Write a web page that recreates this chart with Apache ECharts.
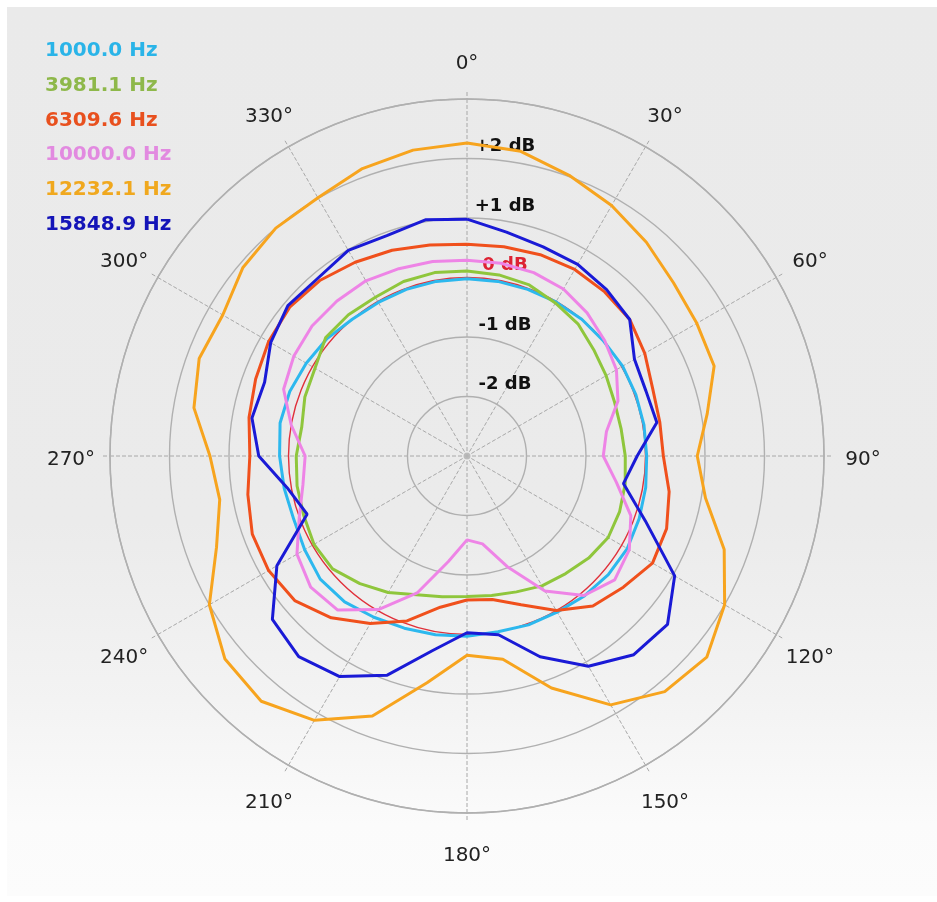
<!DOCTYPE html>
<html>
<head>
<meta charset="utf-8">
<title>Directivity</title>
<script src="https://cdn.jsdelivr.net/npm/echarts@6/dist/echarts.min.js"></script>
<style>
  html, body { margin: 0; padding: 0; background: #ffffff; }
  #panel {
    position: absolute; left: 7px; top: 7px; width: 930px; height: 889px;
    background: linear-gradient(to bottom, #eaeaea 0%, #ebebeb 58%, #f3f3f3 78%, #fbfbfb 92%, #fcfcfc 100%);
  }
  #chart { position: absolute; left: 0; top: 0; width: 937px; height: 902px; }
</style>
</head>
<body>
<div id="panel"></div>
<div id="chart"></div>
<script>
// Angles (degrees, clockwise from front) at which each response was measured
const angles = [0, 10, 20, 30, 40, 50, 60, 70, 80, 90, 100, 110, 120, 130, 140, 150, 160, 170,
                180, 190, 200, 210, 220, 230, 240, 250, 260, 270, 280, 290, 300, 310, 320, 330, 340, 350];

// Angles that carry a degree label around the rim
const angleTicks = [0, 30, 60, 90, 120, 150, 180, 210, 240, 270, 300, 330];

// Relative level in dB per frequency
const hz1000 = [-0.02, -0.02, -0.02, -0.01, 0.00, 0.00, 0.02, 0.02, 0.02, 0.02, 0.05, 0.08,
                0.11, 0.10, 0.07, 0.03, 0.02, 0.00, 0.03, 0.05, 0.08, 0.13, 0.20, 0.22,
                0.15, 0.10, 0.12, 0.15, 0.19, 0.17, 0.12, 0.07, 0.00, -0.02, -0.02, -0.02];
const hz3981 = [0.11, 0.09, 0.06, -0.03, -0.10, -0.22, -0.30, -0.36, -0.37, -0.34, -0.30, -0.27,
                -0.26, -0.33, -0.42, -0.48, -0.57, -0.62, -0.64, -0.60, -0.52, -0.35, -0.20, -0.05,
                -0.03, -0.08, -0.10, -0.13, -0.18, -0.10, -0.05, 0.10, 0.10, 0.08, 0.12, 0.13];
const hz6310 = [0.56, 0.57, 0.60, 0.62, 0.60, 0.57, 0.45, 0.32, 0.29, 0.30, 0.45, 0.57,
                0.60, 0.43, 0.29, 0.00, -0.34, -0.55, -0.58, -0.42, -0.05, 0.25, 0.55, 0.78,
                0.85, 0.84, 0.74, 0.65, 0.72, 0.78, 0.85, 0.89, 0.85, 0.76, 0.68, 0.60];
const hz10000 = [0.29, 0.29, 0.28, 0.24, 0.14, 0.02, -0.10, -0.30, -0.62, -0.71, -0.45, -0.07,
                 0.15, 0.24, 0.06, -0.38, -1.02, -1.50, -1.59, -1.20, -0.55, -0.02, 0.38, 0.43,
                 0.30, 0.00, -0.20, -0.28, 0.00, 0.28, 0.36, 0.40, 0.40, 0.40, 0.35, 0.32];
const hz12232 = [2.26, 2.20, 2.02, 1.86, 1.69, 1.53, 1.46, 1.42, 1.10, 0.87, 1.07, 1.60,
                 2.00, 2.26, 2.17, 1.83, 1.15, 0.47, 0.35, 0.87, 1.65, 2.13, 2.38, 2.31,
                 2.00, 1.48, 1.22, 1.32, 1.66, 1.79, 1.74, 1.92, 2.00, 2.01, 2.14, 2.22];
const hz15849 = [0.98, 0.82, 0.74, 0.72, 0.65, 0.57, 0.25, 0.20, 0.24, -0.14, -0.33, 0.19,
                 1.03, 1.40, 1.36, 1.08, 0.59, 0.05, -0.03, 0.32, 0.92, 1.28, 1.40, 1.27,
                 0.69, -0.14, 0.07, 0.50, 0.67, 0.62, 0.81, 0.93, 0.90, 0.99, 0.94, 1.03];

const seriesNames = ['1000.0 Hz', '3981.1 Hz', '6309.6 Hz', '10000.0 Hz', '12232.1 Hz', '15848.9 Hz'];
const seriesValues = [hz1000, hz3981, hz6310, hz10000, hz12232, hz15849];
const seriesColors = ['#2cb8ee', '#8fc63c', '#f0501c', '#ee84e6', '#f7a41e', '#1a1ad6'];
const legendColors = ['#2ab4e8', '#8eb84a', '#e8501e', '#e28ae0', '#f0a81e', '#1414b8'];

// Radial scale and its ring labels
const dbMin = -3, dbMax = 3;
const dbLabels = { '-2': '-2 dB', '-1': '-1 dB', '0': '0 dB', '1': '+1 dB', '2': '+2 dB' };

const polarRadius = 357;
const rimLabelGap = 39; // px beyond the outer ring where degree labels are centred

const gridGrey = '#b0b0b0';

// Close each curve by repeating its first sample at 360°
function toPolar(values) {
  const pts = values.map((v, i) => [v, angles[i]]);
  pts.push([values[0], 360]);
  return pts;
}

const chart = echarts.init(document.getElementById('chart'), null, { renderer: 'canvas' });

const lineSeries = seriesNames.map((name, i) => ({
  name: name,
  type: 'line',
  coordinateSystem: 'polar',
  data: toPolar(seriesValues[i]),
  showSymbol: false,
  symbol: 'none',
  smooth: false,
  lineStyle: { color: seriesColors[i], width: 3 },
  itemStyle: { color: seriesColors[i] },
  z: 3 + i,
  silent: true
}));

// Hub marker at the centre of the plot
lineSeries.push({
  type: 'scatter',
  coordinateSystem: 'polar',
  data: [[dbMin, 0]],
  symbolSize: 7,
  itemStyle: { color: '#b8b8b8' },
  silent: true,
  z: 2
});

chart.setOption({
  animation: false,
  backgroundColor: 'transparent',
  textStyle: { fontFamily: 'DejaVu Sans' },
  legend: {
    orient: 'vertical',
    left: 35,
    top: 36,
    icon: 'none',
    itemWidth: 0,
    itemHeight: 14,
    itemGap: 14.7,
    selectedMode: false,
    data: seriesNames.map((n, i) => ({
      name: n,
      textStyle: { color: legendColors[i] }
    })),
    textStyle: {
      fontFamily: 'DejaVu Sans',
      fontWeight: 'bold',
      fontSize: 20,
      lineHeight: 20
    }
  },
  polar: {
    center: [467, 456],
    radius: polarRadius
  },
  angleAxis: {
    type: 'value',
    min: 0,
    max: 360,
    interval: 30,
    startAngle: 90,
    clockwise: true,
    axisLine: { show: true, lineStyle: { color: gridGrey, width: 1.5 } },
    axisTick: { show: true, length: 7, lineStyle: { color: '#a8a8a8', type: 'dashed', width: 1 } },
    axisLabel: { show: false },
    splitLine: { show: true, lineStyle: { color: '#a8a8a8', type: 'dashed', width: 1 } }
  },
  radiusAxis: {
    type: 'value',
    min: dbMin,
    max: dbMax,
    interval: 1,
    axisLine: { show: false },
    axisTick: { show: false },
    axisLabel: {
      margin: -38,
      align: 'center',
      verticalAlign: 'bottom',
      formatter: v => {
        const key = String(Math.round(v));
        if (!(key in dbLabels)) return '';
        return key === '0' ? '{z|' + dbLabels[key] + '}' : '{k|' + dbLabels[key] + '}';
      },
      rich: {
        k: { fontFamily: 'DejaVu Sans', fontWeight: 'bold', fontSize: 18, color: '#111111', padding: [0, 0, 3, 0] },
        z: { fontFamily: 'DejaVu Sans', fontWeight: 'bold', fontSize: 18, color: '#dd2233', padding: [0, 0, 3, 0] }
      }
    },
    splitLine: {
      show: true,
      lineStyle: {
        color: [gridGrey, gridGrey, gridGrey, '#e0303a', gridGrey, gridGrey, gridGrey],
        width: 1.4
      }
    },
    z: 1
  },
  series: lineSeries
});

// Degree labels centred just outside the rim, positioned through the polar scale
const rimValue = dbMax + rimLabelGap * (dbMax - dbMin) / polarRadius;
chart.setOption({
  graphic: angleTicks.map(a => {
    const p = chart.convertToPixel({ seriesIndex: 0 }, [rimValue, a]);
    return {
      type: 'text',
      x: p[0],
      y: p[1] + 4,
      silent: true,
      style: {
        text: a + '°',
        fontFamily: 'DejaVu Sans',
        fontSize: 20,
        fill: '#222222',
        align: 'center',
        verticalAlign: 'middle'
      }
    };
  })
});
</script>
</body>
</html>
